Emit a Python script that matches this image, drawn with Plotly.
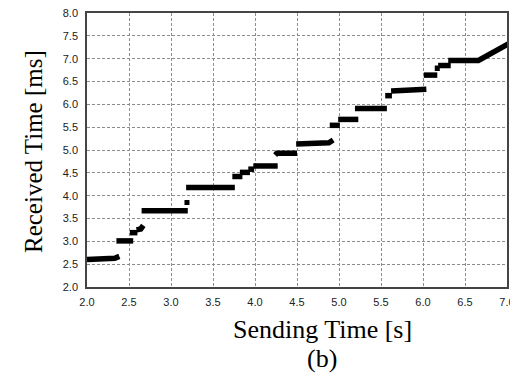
import plotly.graph_objects as go

# Data: each segment of received-time vs sending-time
seg_x = [
    [2.00, 2.27, 2.33, 2.385],
    [2.35, 2.55],
    [2.51, 2.60],
    [2.59, 2.64, 2.67],
    [2.65, 3.20],
    [3.18, 3.76],
    [3.73, 3.85],
    [3.82, 3.94],
    [3.92, 3.99],
    [3.98, 4.27],
    [4.24, 4.26, 4.50],
    [4.49, 4.81, 4.88, 4.93],
    [4.89, 5.01],
    [4.99, 5.23],
    [5.19, 5.57],
    [5.55, 5.63],
    [5.62, 6.02, 6.04],
    [6.01, 6.17],
    [6.14, 6.20],
    [6.18, 6.33],
    [6.30, 6.66, 7.05],
]
seg_y = [
    [2.60, 2.60, 2.63, 2.67],
    [3.01, 3.01],
    [3.19, 3.19],
    [3.25, 3.27, 3.35],
    [3.67, 3.67],
    [4.18, 4.18],
    [4.42, 4.42],
    [4.51, 4.51],
    [4.58, 4.58],
    [4.65, 4.65],
    [4.89, 4.93, 4.93],
    [5.13, 5.13, 5.16, 5.22],
    [5.54, 5.54],
    [5.67, 5.67],
    [5.91, 5.91],
    [6.19, 6.19],
    [6.29, 6.30, 6.33],
    [6.64, 6.64],
    [6.79, 6.79],
    [6.85, 6.85],
    [6.96, 6.96, 7.36],
]
dot_x = [3.19]
dot_y = [3.85]

x_title = "Sending Time [s]"
y_title = "Received Time [ms]"
caption = "(b)"

xs, ys = [], []
for sx, sy in zip(seg_x, seg_y):
    xs += sx + [None]
    ys += sy + [None]

fig = go.Figure()
fig.add_trace(go.Scatter(x=xs, y=ys, mode="lines",
                         line=dict(color="black", width=5.5),
                         connectgaps=False, showlegend=False, hoverinfo="skip"))
fig.add_trace(go.Scatter(x=dot_x, y=dot_y, mode="markers",
                         marker=dict(symbol="square", size=5, color="black"),
                         showlegend=False, hoverinfo="skip"))

axis_common = dict(
    showgrid=True, gridcolor="#8c8c8c", gridwidth=1, griddash="3px,2px",
    showline=True, linecolor="#444444", linewidth=1.5, mirror=True,
    ticks="", zeroline=False, ticklabeloverflow="allow", automargin=False,
    tickfont=dict(family="Liberation Sans, Arial, sans-serif", size=11, color="#222222"),
    tickformat=".1f", dtick=0.5,
)
fig.update_xaxes(range=[2, 7], tick0=2, ticklabelstandoff=4, **axis_common)
fig.update_yaxes(range=[2, 8], tick0=2, ticklabelstandoff=5, **axis_common)

serif = dict(family="Liberation Serif, Times New Roman, serif", size=26, color="black")
fig.add_annotation(text=x_title, xref="paper", yref="paper", x=(322 - 87) / 420,
                   y=(378 - 91 - 331) / 287, xanchor="center", yanchor="middle",
                   showarrow=False, font=serif)
fig.add_annotation(text=caption, xref="paper", yref="paper", x=(322 - 87) / 420,
                   y=(378 - 91 - 362) / 287, xanchor="center", yanchor="middle",
                   showarrow=False, font=serif)
fig.add_annotation(text=y_title, xref="paper", yref="paper", x=(33 - 87) / 420,
                   y=(287 - 152) / 274, xanchor="center", yanchor="middle", textangle=-90,
                   showarrow=False, font=dict(family=serif["family"], size=25, color="black"))

fig.update_layout(width=510, height=378,
                  margin=dict(l=87, r=3, t=13, b=91, autoexpand=False),
                  paper_bgcolor="white", plot_bgcolor="white")
fig.write_html("out.html")
